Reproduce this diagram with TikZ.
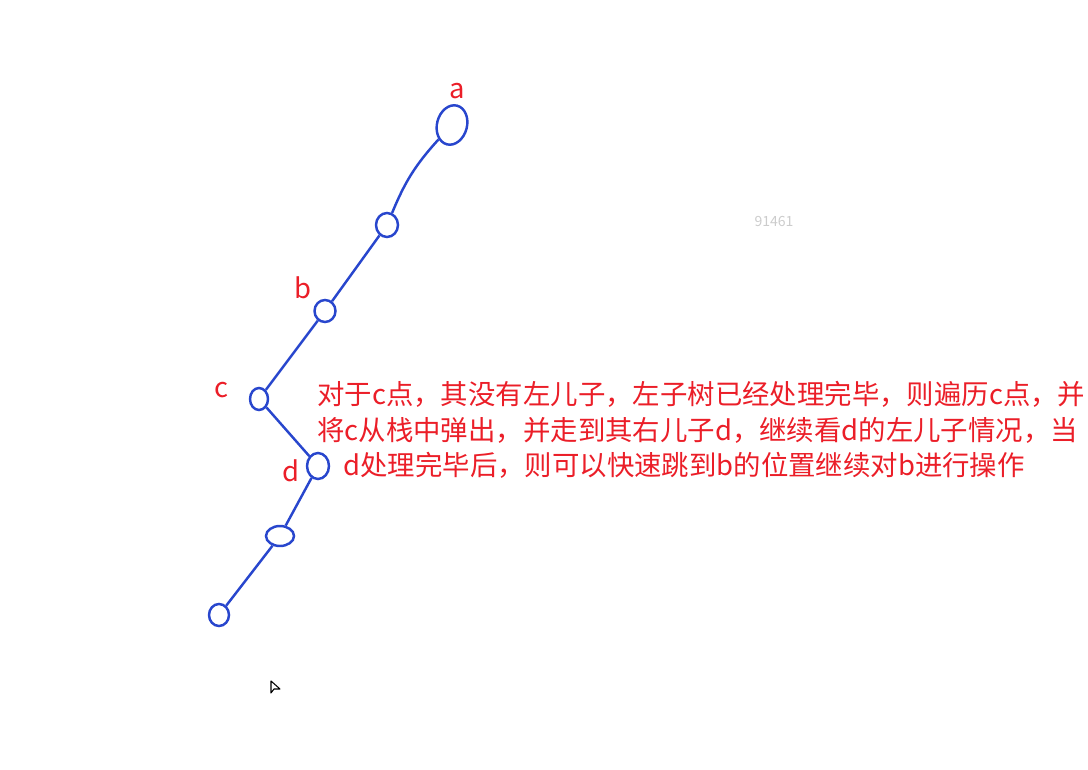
\documentclass[tikz,border=0pt]{standalone}
\usepackage{fontspec}
\newfontfamily\cjk{Noto Sans CJK SC}
\usepackage{xcolor}
\usetikzlibrary{shapes.geometric,positioning}
\definecolor{inkblue}{RGB}{40,70,205}
\definecolor{notered}{RGB}{235,30,40}

\begin{document}
\begin{tikzpicture}[
        x=0.02cm, y=-0.02cm,
        knot/.style={draw=inkblue, ellipse, line width=1.4pt, inner sep=0pt},
        twig/.style={draw=inkblue, line width=1.4pt},
        tag/.style={text=notered, inner sep=0pt, font=\cjk\fontsize{15.6}{20.2}\selectfont}
    ]
        \useasboundingbox (0,0) rectangle (1088,770);

        \node[knot, minimum width=0.6cm, minimum height=0.8cm, rotate=-15] (a) at (452,125) {};
        \node[knot, minimum width=0.44cm, minimum height=0.48cm] (ab) at (387,225) {};
        \node[knot, minimum width=0.42cm, minimum height=0.44cm] (b) at (325,311) {};
        \node[knot, minimum width=0.36cm, minimum height=0.44cm] (c) at (259,399) {};
        \node[knot, minimum width=0.44cm, minimum height=0.52cm] (d) at (318,466) {};
        \node[knot, minimum width=0.56cm, minimum height=0.4cm] (dl) at (280,536) {};
        \node[knot, minimum width=0.4cm, minimum height=0.44cm] (dll) at (219,615) {};

        \node[tag, above=0.1cm of a] {a};
        \node[tag, above left=0.06cm and 0.1cm of b] {b};
        \node[tag, left=0.4cm of c, yshift=0.18cm] {c};
        \node[tag, left=0.12cm of d, yshift=-0.1cm] {d};

        \draw[twig] (a) to[bend right=10] (ab);
        \draw[twig] (ab) -- (b);
        \draw[twig] (b) -- (c);
        \draw[twig] (c) -- (d);
        \draw[twig] (d) -- (dl);
        \draw[twig] (dl) -- (dll);

        \node[tag, align=left, anchor=west] (note) at (317,430) {对于c点，其没有左儿子，左子树已经处理完毕，则遍历c点，并\\将c从栈中弹出，并走到其右儿子d，继续看d的左儿子情况，当\\\hspace*{0.95em}d处理完毕后，则可以快速跳到b的位置继续对b进行操作};

        \node[text=black!20, inner sep=0pt, font=\cjk\fontsize{8}{10}\selectfont] (mark) at (774,221) {91461};

        % cursor
        \draw[line width=0.6pt, line join=round] (271,681) -- (271,693) -- (274,689) -- (280,689) -- cycle;
    \end{tikzpicture}
\end{document}
